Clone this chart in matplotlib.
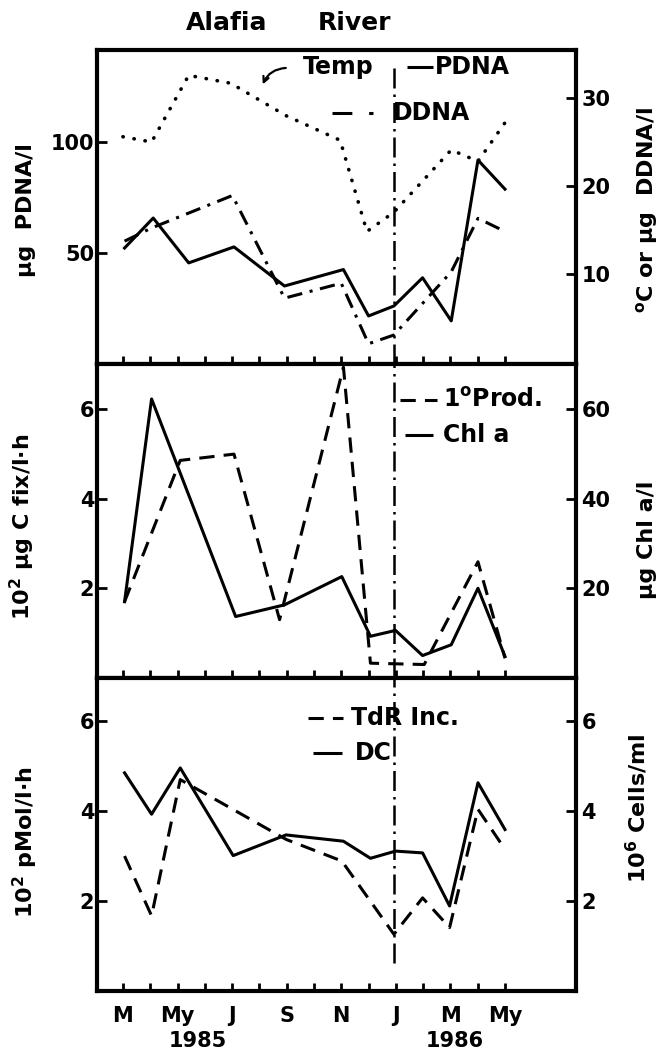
import matplotlib
matplotlib.use("Agg")
import matplotlib.pyplot as plt
from matplotlib import transforms

plt.rcParams['font.family'] = ['DejaVu Sans']
plt.rcParams['font.weight'] = 'bold'
plt.rcParams['mathtext.fontset'] = 'dejavusans'

# months since March 1985 (0 = M, 14 = My 1986)
month_ticks = list(range(15))
month_labels = ['M', '', 'My', '', 'J', '', 'S', '', 'N', '', 'J', '', 'M', '', 'My']

# top panel
pdna_x = [0.06, 1.11, 2.41, 4.07, 5.92, 8.08, 9.0, 9.93, 10.98, 12.03, 13.01, 14.0]
pdna = [52.2, 65.7, 45.5, 52.7, 35.1, 42.5, 21.6, 26.1, 38.8, 19.4, 91.8, 78.7]
ddna_x = [0.06, 1.05, 4.01, 5.92, 8.0, 9.0, 9.93, 12.03, 13.01, 14.0]
ddna = [13.7, 15.2, 18.9, 7.2, 8.9, 2.0, 3.0, 10.2, 16.3, 14.8]
temp_x = [0.0, 1.05, 2.41, 3.95, 5.98, 7.96, 8.94, 9.93, 12.03, 13.01, 14.0]
temp = [25.6, 25.0, 32.6, 31.7, 28.0, 25.2, 14.8, 17.0, 24.1, 22.8, 27.2]

# middle panel
chl_x = [0.06, 1.05, 4.13, 5.92, 8.02, 9.07, 9.99, 10.98, 12.03, 13.01, 14.0]
chl = [17.0, 62.2, 13.7, 16.3, 22.6, 9.3, 10.6, 5.0, 7.4, 20.0, 4.8]
prod_x = [0.06, 2.1, 4.07, 5.74, 8.08, 9.07, 11.04, 13.01, 14.0]
prod = [1.70, 4.85, 4.99, 1.30, 6.93, 0.33, 0.30, 2.59, 0.44]

# bottom panel
dc_x = [0.06, 1.05, 2.10, 4.04, 5.98, 8.08, 9.07, 9.99, 10.98, 11.97, 13.01, 14.0]
dc = [4.85, 3.93, 4.96, 3.01, 3.47, 3.33, 2.95, 3.11, 3.07, 1.89, 4.63, 3.59]
tdr_x = [0.06, 1.05, 2.10, 5.98, 8.02, 9.93, 10.98, 11.97, 13.01, 14.0]
tdr = [3.0, 1.67, 4.70, 3.37, 2.89, 1.26, 2.07, 1.41, 4.04, 3.15]

year_div = 9.95

LW = 2.2
DASH = (0, (5, 3))
DASHDOT = (0, (5, 2.5, 1, 2.5))
DOT = (0, (0.1, 3))
VLINE = (0, (8, 2.4, 1, 2.4))
FS = 15
LFS = 16


def style_axes(ax, twin):
    for sp in ax.spines.values():
        sp.set_linewidth(3)
    ax.set_xlim(-0.95, 16.6)
    ax.set_xticks(month_ticks)
    ax.tick_params(axis='x', direction='in', length=5.5, width=2, top=False)
    ax.tick_params(axis='y', direction='in', length=7, width=2, labelsize=FS, pad=2)
    twin.tick_params(axis='y', direction='in', length=7, width=2, labelsize=FS, pad=4)
    twin.tick_params(axis='x', bottom=False, top=False)
    for t in ax.get_yticklabels() + twin.get_yticklabels():
        t.set_fontweight('bold')


def legend_line(ax, x0, x1, y, ls, text, tx):
    ax.plot([x0, x1], [y, y], transform=ax.transAxes, color='black', lw=LW,
            linestyle=ls, clip_on=False, solid_capstyle='butt')
    ax.text(tx, y, text, transform=ax.transAxes, fontsize=17, fontweight='bold',
            va='center', ha='left')


fig = plt.figure(figsize=(6.68, 10.62), dpi=100)
left, width = 0.1452, 0.717
ax1 = fig.add_axes([left, 0.6573, width, 0.2957])
ax2 = fig.add_axes([left, 0.3616, width, 0.2957], sharex=ax1)
ax3 = fig.add_axes([left, 0.0669, width, 0.2947], sharex=ax1)
ax1r = ax1.twinx()
ax2r = ax2.twinx()
ax3r = ax3.twinx()

# top panel
ax1.plot(pdna_x, pdna, color='black', lw=LW)
ax1r.plot(ddna_x, ddna, color='black', lw=LW, linestyle=DASHDOT)
ax1r.plot(temp_x, temp, color='black', lw=2.6, linestyle=DOT, dash_capstyle='round')
ax1.set_ylim(0, 141.4)
ax1.set_yticks([50, 100])
ax1r.set_ylim(-0.3, 35.5)
ax1r.set_yticks([10, 20, 30])
ax1.axvline(year_div, ymin=0, ymax=0.955, color='black', lw=1.8, linestyle=VLINE)
ax1.text(0.503, 0.946, 'Temp', transform=ax1.transAxes, fontsize=17, fontweight='bold',
         ha='center', va='center')
ax1.annotate('', xy=(0.344, 0.882), xytext=(0.40, 0.943), xycoords='axes fraction',
             arrowprops=dict(arrowstyle='->', lw=1.6, color='black',
                             connectionstyle='arc3,rad=0.35'))
legend_line(ax1, 0.647, 0.701, 0.946, '-', 'PDNA', 0.705)
legend_line(ax1, 0.491, 0.576, 0.80, (0, (6.5, 5.5)), 'DDNA', 0.618)
ax1.set_ylabel('μg  PDNA/l', fontsize=LFS, fontweight='bold')
ax1.yaxis.set_label_coords(-0.127, 0.49)
ax1r.set_ylabel(r'$^{\mathbf{o}}$C or μg  DDNA/l', fontsize=LFS, fontweight='bold')
ax1r.yaxis.set_label_coords(1.121, 0.49)

# middle panel
ax2r.plot(chl_x, chl, color='black', lw=LW)
ax2.plot(prod_x, prod, color='black', lw=LW, linestyle=DASH)
ax2.set_ylim(0, 7)
ax2.set_yticks([2, 4, 6])
ax2r.set_ylim(0, 70)
ax2r.set_yticks([20, 40, 60])
ax2.axvline(year_div, color='black', lw=1.8, linestyle=VLINE)
legend_line(ax2, 0.633, 0.71, 0.885, DASH, r'1$^{\mathbf{o}}$Prod.', 0.723)
legend_line(ax2, 0.643, 0.701, 0.774, '-', 'Chl a', 0.723)
ax2.set_ylabel(r'10$^{\mathbf{2}}$ μg C fix/l·h', fontsize=LFS, fontweight='bold')
ax2.yaxis.set_label_coords(-0.125, 0.48)
ax2r.set_ylabel('μg Chl a/l', fontsize=LFS, fontweight='bold')
ax2r.yaxis.set_label_coords(1.127, 0.44)

# bottom panel
ax3r.plot(dc_x, dc, color='black', lw=LW)
ax3.plot(tdr_x, tdr, color='black', lw=LW, linestyle=DASH)
ax3.set_ylim(0, 6.96)
ax3.set_yticks([2, 4, 6])
ax3r.set_ylim(0, 6.96)
ax3r.set_yticks([2, 4, 6])
ax3.axvline(year_div, ymin=0.09, ymax=1, color='black', lw=1.8, linestyle=VLINE)
legend_line(ax3, 0.44, 0.514, 0.872, DASH, 'TdR Inc.', 0.53)
legend_line(ax3, 0.451, 0.511, 0.76, '-', 'DC', 0.539)
ax3.set_ylabel(r'10$^{\mathbf{2}}$ pMol/l·h', fontsize=LFS, fontweight='bold')
ax3.yaxis.set_label_coords(-0.12, 0.476)
ax3r.set_ylabel(r'10$^{\mathbf{6}}$ Cells/ml', fontsize=LFS, fontweight='bold')
ax3r.yaxis.set_label_coords(1.10, 0.585)

for ax, twin in [(ax1, ax1r), (ax2, ax2r), (ax3, ax3r)]:
    style_axes(ax, twin)

ax1.tick_params(axis='x', labelbottom=False)
ax2.tick_params(axis='x', labelbottom=False)
ax3.set_xticklabels(month_labels, fontsize=FS, fontweight='bold')
ax3.tick_params(axis='x', pad=11)

trans = transforms.blended_transform_factory(ax3.transData, ax3.transAxes)
ax3.text(2.75, -0.16, '1985', transform=trans, fontsize=FS, fontweight='bold',
         ha='center', va='center')
ax3.text(12.17, -0.16, '1986', transform=trans, fontsize=FS, fontweight='bold',
         ha='center', va='center')

fig.text(0.34, 0.978, 'Alafia', fontsize=18, fontweight='bold', ha='center', va='center')
fig.text(0.53, 0.978, 'River', fontsize=18, fontweight='bold', ha='center', va='center')

fig.savefig('out.png', dpi=100)
